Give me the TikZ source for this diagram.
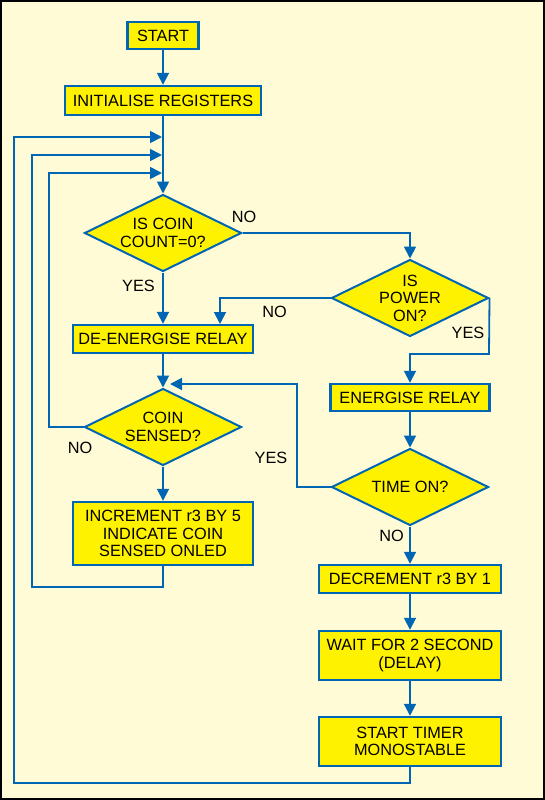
\documentclass[tikz,border=0pt]{standalone}
\usepackage{fontspec}
\setmainfont{Liberation Sans}
\usetikzlibrary{arrows.meta,shapes.geometric}
\definecolor{bgc}{RGB}{255,251,214}
\definecolor{fy}{RGB}{255,242,0}
\definecolor{fb}{RGB}{0,102,179}
\newcommand\flowfont{\fontsize{16.3}{17.5}\selectfont}
\begin{document}
\begin{tikzpicture}[x=1pt,y=-1pt,
  box/.style={draw=fb, line width=2.4pt, fill=fy, inner sep=0pt, align=center, font=\flowfont},
  dia/.style={diamond, aspect=2, draw=fb, line width=2pt, fill=fy, inner sep=-6pt, minimum width=157pt, minimum height=77pt, align=center, font=\flowfont},
  arr/.style={draw=fb, line width=1.8pt, -{Triangle[length=12pt,width=12pt]}},
  lbl/.style={inner sep=0pt, font=\flowfont}]
\useasboundingbox (0,0) rectangle (545,800);
\draw[line width=2pt, fill=bgc] (1,1) rectangle (544,799);

% boxes
\node[box, minimum width=71pt, minimum height=27pt] (start) at (163,35.5) {START};
\node[box, minimum width=196pt, minimum height=29pt] (init) at (163,100.5) {INITIALISE REGISTERS};
\node[dia] (d1) at (163,233) {IS COIN\\COUNT=0?};
\node[dia] (d2) at (410,298) {IS\\POWER\\ON?};
\node[box, minimum width=180pt, minimum height=28pt] (de) at (163,339) {DE-ENERGISE RELAY};
\node[box, minimum width=159pt, minimum height=27pt] (en) at (410,397.5) {ENERGISE RELAY};
\node[dia] (d3) at (163,427) {COIN\\SENSED?};
\node[dia] (d4) at (410,487) {TIME ON?};
\node[box, minimum width=180pt, minimum height=63pt] (inc) at (163,533.5) {INCREMENT r3 BY 5\\INDICATE COIN\\SENSED ONLED};
\node[box, minimum width=182pt, minimum height=28pt] (dec) at (410,579) {DECREMENT r3 BY 1};
\node[box, minimum width=182pt, minimum height=49pt] (wait) at (410,655.5) {WAIT FOR 2 SECOND\\(DELAY)};
\node[box, minimum width=182pt, minimum height=49pt] (timer) at (410,741.5) {START TIMER\\MONOSTABLE};

% labels
\node[lbl] (n1) at (244,216.5) {NO};
\node[lbl] (y1) at (138.5,286) {YES};
\node[lbl] (n2) at (274.5,312) {NO};
\node[lbl] (y2) at (468,332.5) {YES};
\node[lbl] (n3) at (80,447.5) {NO};
\node[lbl] (y4) at (271,457.5) {YES};
\node[lbl] (n4) at (391.5,535.5) {NO};

% junction coordinates
\coordinate (j1) at (162,137);
\coordinate (j2) at (162,155);
\coordinate (j3) at (162,173);
\coordinate (j4) at (170,384);
\coordinate (l1) at (14,783);
\coordinate (l2) at (32,587);
\coordinate (l3) at (49,427);
\coordinate (dein) at (220,324);
\coordinate (yc) at (489,354);
\coordinate (tc) at (297,487);

% connectors
\draw[arr] (start) -- (init);
\draw[arr] (init) -- (d1);
\draw[arr] (d1.south) -- (de.north);
\draw[arr] (d1.east) -| (d2.north);
\draw[arr] (d2.west) -| (dein);
\draw[arr] (d2.east) -- (yc) -| (en.north);
\draw[arr] (de.south) -- (d3.north);
\draw[arr] (d3.south) -- (inc.north);
\draw[arr] (d3.west) -- (l3) |- (j3);
\draw[arr] (inc.south) |- (l2) |- (j2);
\draw[arr] (en.south) -- (d4.north);
\draw[arr] (d4.west) -- (tc) |- (j4);
\draw[arr] (d4.south) -- (dec.north);
\draw[arr] (dec.south) -- (wait.north);
\draw[arr] (wait.south) -- (timer.north);
\draw[arr] (timer.south) |- (l1) |- (j1);
\end{tikzpicture}
\end{document}
